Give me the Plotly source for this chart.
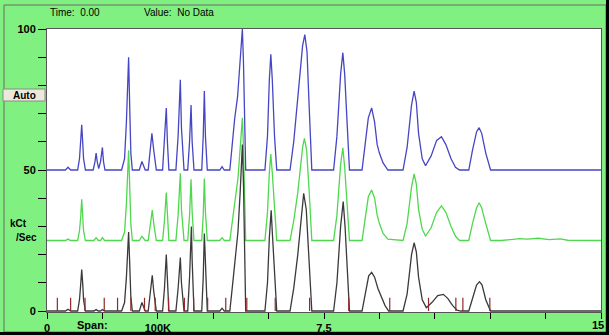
import plotly.graph_objects as go

# ---------------- data ----------------
blue_points = [
    (0.00, 50), (0.50, 50), (0.57, 51), (0.64, 50),
    (0.83, 50), (0.88, 54), (0.91, 60), (0.94, 66), (0.97, 59), (0.99, 54), (1.04, 50),
    (1.25, 50), (1.30, 53), (1.33, 56), (1.36, 53), (1.40, 50.5),
    (1.45, 53), (1.50, 58), (1.53, 53), (1.57, 50),
    (2.02, 50), (2.10, 54), (2.15, 67), (2.21, 90), (2.24, 72), (2.27, 56), (2.31, 50),
    (2.50, 50), (2.57, 53), (2.66, 50),
    (2.74, 50), (2.79, 56), (2.84, 63), (2.89, 57), (2.96, 50),
    (3.13, 50), (3.18, 60), (3.23, 72), (3.26, 60), (3.30, 50),
    (3.49, 50), (3.55, 62), (3.61, 82), (3.64, 65), (3.71, 50),
    (3.81, 50), (3.86, 60), (3.90, 73), (3.93, 60), (3.98, 50),
    (4.19, 50), (4.23, 62), (4.26, 78), (4.29, 62), (4.34, 50),
    (4.68, 50), (4.74, 51.2), (4.80, 50),
    (4.95, 50), (5.02, 60), (5.08, 68), (5.16, 76), (5.22, 86), (5.29, 100), (5.32, 88), (5.35, 62), (5.38, 50),
    (5.90, 50), (5.97, 62), (6.02, 82), (6.06, 91), (6.10, 82), (6.16, 62), (6.22, 50),
    (6.58, 50), (6.68, 60), (6.79, 75), (6.92, 94), (6.98, 98), (7.04, 92), (7.10, 72), (7.17, 50),
    (7.76, 50), (7.85, 62), (7.95, 84), (8.01, 91.6), (8.06, 84), (8.13, 66), (8.19, 50),
    (8.53, 50), (8.60, 58), (8.70, 68.5), (8.79, 72), (8.87, 67), (8.94, 59), (9.00, 56), (9.10, 52.5), (9.23, 50),
    (9.64, 50), (9.75, 58), (9.87, 73), (9.94, 78), (10.00, 74), (10.06, 63), (10.16, 54), (10.25, 51.5),
    (10.40, 55), (10.55, 60.5), (10.68, 61.8), (10.80, 59), (10.94, 54), (11.06, 51), (11.17, 50),
    (11.42, 50), (11.52, 57), (11.63, 63.5), (11.70, 65), (11.77, 63), (11.88, 56), (12.01, 50),
    (15.00, 50),
]

green_points = [
    (0.00, 25), (0.50, 25), (0.57, 25.5), (0.64, 25),
    (0.83, 25), (0.88, 28.5), (0.91, 33), (0.94, 39.6), (0.97, 33), (0.99, 28.5), (1.04, 25),
    (1.27, 25), (1.33, 26), (1.39, 25),
    (1.45, 25), (1.50, 26), (1.56, 25),
    (2.02, 25), (2.10, 28), (2.15, 38), (2.21, 57), (2.24, 44), (2.27, 31), (2.31, 25),
    (2.50, 25), (2.57, 26.5), (2.66, 25),
    (2.74, 25), (2.79, 30), (2.85, 35.8), (2.89, 31), (2.96, 25),
    (3.13, 25), (3.18, 32), (3.23, 42), (3.26, 33), (3.30, 25),
    (3.49, 25), (3.55, 34), (3.61, 48.8), (3.64, 36), (3.71, 25),
    (3.81, 25), (3.86, 34), (3.90, 46.7), (3.93, 35), (3.98, 25),
    (4.19, 25), (4.23, 34), (4.26, 47), (4.29, 35), (4.34, 25),
    (4.68, 25), (4.74, 26), (4.80, 25),
    (4.95, 25), (5.03, 34), (5.10, 40), (5.17, 47), (5.23, 57), (5.29, 68.5), (5.32, 58), (5.35, 36), (5.38, 25),
    (5.90, 25), (5.97, 35), (6.02, 49), (6.06, 55.7), (6.10, 49), (6.16, 35), (6.22, 25),
    (6.58, 25), (6.68, 32), (6.79, 42), (6.92, 58), (6.97, 61.2), (7.03, 57), (7.10, 42), (7.17, 25),
    (7.76, 25), (7.85, 34), (7.95, 52), (8.01, 57.9), (8.06, 51), (8.13, 37), (8.19, 25),
    (8.53, 25), (8.60, 32), (8.70, 40.5), (8.79, 42.9), (8.87, 40), (8.94, 34), (9.00, 31), (9.10, 27.5), (9.23, 25.5),
    (9.64, 25), (9.75, 31), (9.87, 44), (9.94, 48.6), (10.00, 45), (10.06, 36), (10.16, 29), (10.25, 26.6),
    (10.40, 29.5), (10.55, 35), (10.68, 37.3), (10.80, 35), (10.94, 30), (11.06, 26.5), (11.17, 25),
    (11.42, 25), (11.52, 31), (11.63, 36.5), (11.70, 38.4), (11.77, 36.5), (11.88, 31), (12.01, 25),
    (12.30, 25), (12.55, 25.4), (12.80, 25.7), (13.00, 25.5), (13.30, 25.8), (13.60, 25.3),
    (13.90, 25.6), (14.10, 25.1), (14.40, 25), (15.00, 25),
]

black_points = [
    (0.00, 0), (0.50, 0), (0.57, 0.6), (0.64, 0),
    (0.83, 0), (0.88, 4), (0.91, 9), (0.94, 14.7), (0.97, 9), (0.99, 4), (1.04, 0),
    (1.27, 0), (1.33, 0.5), (1.39, 0),
    (1.45, 0), (1.50, 0.5), (1.56, 0),
    (2.02, 0), (2.10, 3), (2.15, 12), (2.21, 28), (2.24, 16), (2.27, 5), (2.31, 0),
    (2.50, 0), (2.57, 3), (2.66, 0),
    (2.74, 0), (2.79, 6), (2.85, 12.7), (2.89, 7), (2.96, 0),
    (3.13, 0), (3.18, 8), (3.23, 20), (3.26, 10), (3.30, 0),
    (3.49, 0), (3.55, 8), (3.61, 19), (3.64, 10), (3.71, 0),
    (3.81, 0), (3.86, 12), (3.91, 30), (3.93, 18), (3.98, 0),
    (4.19, 0), (4.23, 12), (4.26, 27.5), (4.29, 14), (4.34, 0),
    (4.68, 0), (4.74, 1), (4.80, 0),
    (4.95, 0), (5.03, 10), (5.10, 18), (5.17, 28), (5.23, 42), (5.29, 59), (5.32, 45), (5.35, 15), (5.38, 0),
    (5.90, 0), (5.97, 10), (6.02, 26), (6.07, 35.7), (6.10, 28), (6.16, 12), (6.22, 0),
    (6.58, 0), (6.68, 8), (6.79, 20), (6.90, 36), (6.95, 41.7), (7.02, 36), (7.10, 18), (7.17, 0),
    (7.76, 0), (7.85, 10), (7.95, 30), (8.02, 38.8), (8.07, 30), (8.13, 14), (8.19, 0),
    (8.53, 0), (8.61, 6), (8.71, 12.5), (8.79, 13.7), (8.87, 12), (8.96, 8), (9.05, 5), (9.15, 2), (9.25, 0),
    (9.64, 0), (9.75, 6), (9.87, 20), (9.94, 24.2), (10.00, 21), (10.06, 12), (10.16, 4), (10.27, 1.2),
    (10.42, 3), (10.58, 5.5), (10.73, 5.9), (10.85, 4.5), (10.98, 2), (11.10, 0.3), (11.20, 0),
    (11.42, 0), (11.52, 4), (11.63, 9.2), (11.71, 10.4), (11.78, 9.2), (11.88, 4), (12.01, 0),
    (15.00, 0),
]

marker_times = [0.28, 0.64, 1.03, 1.55, 1.91, 2.27, 2.64, 2.93, 3.29, 3.72, 3.97,
                4.35, 4.84, 5.41, 6.18, 7.11, 8.17, 9.28, 10.33, 11.07, 11.26, 11.99]
marker_height = 4.7

x_tick_vals = [0, 1.5, 3, 4.5, 6, 7.5, 9, 10.5, 12, 13.5, 15]
x_tick_text = ["0", "", "100K", "", "", "7.5", "", "", "", "", ""]
x_end_label = "15"
y_tick_vals = [0, 10, 20, 30, 40, 50, 60, 70, 80, 90, 100]
y_tick_text = ["0", "", "", "", "", "50", "", "", "", "", "100"]

# ---------------- figure ----------------
W, H = 609, 335
ML, MR, MT, MB = 47, 8, 29, 23
PW, PH = W - ML - MR, H - MT - MB


def px(x):
    return (x - ML) / PW


def py(y):
    return (H - MB - y) / PH


BG = "#80F080"
fig = go.Figure()

for pts, col in [(blue_points, "#4646c4"), (green_points, "#4fd84f"), (black_points, "#3a3a3a")]:
    fig.add_trace(go.Scatter(
        x=[p[0] for p in pts], y=[p[1] for p in pts], mode="lines",
        line=dict(color=col, width=1.3), hoverinfo="skip", showlegend=False))

mx, my = [], []
for t in marker_times:
    mx += [t, t, None]
    my += [0, marker_height, None]
fig.add_trace(go.Scatter(x=mx, y=my, mode="lines", line=dict(color="#8c2a2a", width=1.2),
                         hoverinfo="skip", showlegend=False))

tickfont = dict(family="Liberation Sans, Arial, sans-serif", size=11, color="#000")
fig.update_xaxes(range=[0, 15], tickvals=x_tick_vals,
                 ticktext=["<b>%s</b>" % s if s else "" for s in x_tick_text],
                 ticks="outside", ticklen=6, tickcolor="#000", tickwidth=1,
                 showline=True, linecolor="#555", linewidth=1, mirror=True,
                 showgrid=False, zeroline=False, tickfont=tickfont, automargin=False)
fig.update_yaxes(range=[-0.35, 100], tickvals=y_tick_vals,
                 ticktext=["<b>%s</b>" % s if s else "" for s in y_tick_text],
                 ticks="outside", ticklen=8, tickcolor="#000", tickwidth=1,
                 showline=True, linecolor="#555", linewidth=1, mirror=True,
                 showgrid=False, zeroline=False, tickfont=tickfont, automargin=False)

shapes = [
    # outer frame
    dict(type="rect", xref="paper", yref="paper", x0=px(4), x1=px(606), y0=py(5), y1=py(332),
         line=dict(color="#6a6a6a", width=1), fillcolor="rgba(0,0,0,0)", layer="below"),
    dict(type="rect", xref="paper", yref="paper", x0=px(0), x1=px(609), y0=py(332), y1=py(335),
         line=dict(width=0), fillcolor="#000"),
    dict(type="rect", xref="paper", yref="paper", x0=px(606), x1=px(609), y0=py(0), y1=py(335),
         line=dict(width=0), fillcolor="#000"),
    # Auto button
    dict(type="rect", xref="paper", yref="paper", x0=px(3), x1=px(45), y0=py(89), y1=py(101),
         line=dict(color="#8a8a8a", width=1), fillcolor="#ece8da"),
]

txt = dict(family="Liberation Sans, Arial, sans-serif", color="#000")
annotations = [
    dict(text="Time:  0.00", x=px(48), y=py(12), xanchor="left", yanchor="middle",
         font=dict(size=10, **txt)),
    dict(text="Value:  No Data", x=px(142), y=py(12), xanchor="left", yanchor="middle",
         font=dict(size=10, **txt)),
    dict(text="<b>Auto</b>", x=px(24), y=py(95), xanchor="center", yanchor="middle",
         font=dict(size=10, **txt)),
    dict(text="<b>kCt</b>", x=px(8), y=py(223), xanchor="left", yanchor="middle",
         font=dict(size=10, **txt)),
    dict(text="<b>/Sec</b>", x=px(14), y=py(237), xanchor="left", yanchor="middle",
         font=dict(size=10, **txt)),
    dict(text="<b>Span:</b>", x=px(92), y=py(325), xanchor="center", yanchor="middle",
         font=dict(size=11, **txt)),
    dict(text="<b>%s</b>" % x_end_label, x=px(606), y=py(325), xanchor="right", yanchor="middle",
         font=dict(size=11, **txt)),
]
for a in annotations:
    a.update(xref="paper", yref="paper", showarrow=False)

fig.update_layout(width=W, height=H, margin=dict(l=ML, r=MR, t=MT, b=MB),
                  paper_bgcolor=BG, plot_bgcolor="#ffffff",
                  shapes=shapes, annotations=annotations, showlegend=False)

fig.write_html("out.html", config={"displayModeBar": False},
               post_script="document.body.style.margin='0';document.body.style.overflow='hidden';")
